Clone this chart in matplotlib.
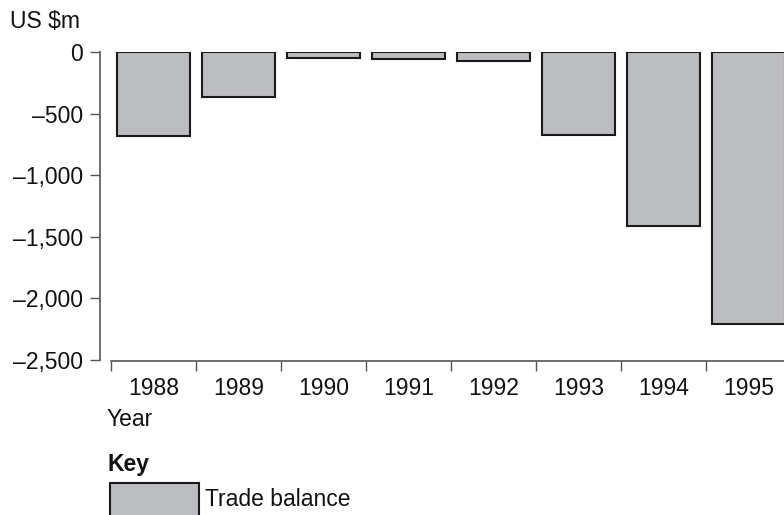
import matplotlib
matplotlib.use("Agg")
import matplotlib.pyplot as plt
from matplotlib.patches import Rectangle

plt.rcParams['font.family'] = ['Liberation Sans', 'DejaVu Sans']

years = ["1988", "1989", "1990", "1991", "1992", "1993", "1994", "1995"]
trade_balance = [-680, -365, -45, -60, -70, -670, -1415, -2210]
y_ticks = [0, -500, -1000, -1500, -2000, -2500]
y_tick_labels = ["0", "\u2013500", "\u20131,000", "\u20131,500", "\u20132,000", "\u20132,500"]

W, H = 784, 515
fig = plt.figure(figsize=(W / 100, H / 100), dpi=100)

ax_left, ax_right = 111, 791
ax_top, ax_bot = 52, 360
ax = fig.add_axes([ax_left / W, 1 - ax_bot / H, (ax_right - ax_left) / W, (ax_bot - ax_top) / H])

fill = "#bcbdc1"
edge = "#1a1a1a"
x = list(range(len(years)))
ax.bar(x, trade_balance, width=0.85, color=fill, edgecolor=edge, linewidth=1.5, align="center")

ax.set_xlim(-0.5, len(years) - 0.5)
ax.set_ylim(-2500, 0)

spine_col = "#555555"
for s in ["top", "right"]:
    ax.spines[s].set_visible(False)
ax.spines["left"].set_position(("outward", 8))
ax.spines["bottom"].set_position(("outward", 1))
ax.spines["left"].set_color(spine_col)
ax.spines["bottom"].set_color(spine_col)
ax.spines["left"].set_linewidth(1.2)
ax.spines["bottom"].set_linewidth(1.2)

ax.set_yticks(y_ticks)
ax.set_yticklabels(y_tick_labels)
ax.set_xticks([i - 0.5 for i in x])
ax.set_xticklabels([])
ax.set_xticks(x, minor=True)
ax.set_xticklabels(years, minor=True)
ax.tick_params(axis="x", which="major", length=7.5, width=1.0, color=spine_col, direction="out")
ax.tick_params(axis="x", which="minor", length=0, pad=11, labelsize=16.5, labelcolor="#111111")
ax.tick_params(axis="y", length=7, width=1.0, color=spine_col, pad=5, labelsize=16.5, labelcolor="#111111")

fig.text(10 / W, 1 - 22 / H, "US $m", fontsize=16.5, ha="left", va="center", color="#111111")
fig.text(107 / W, 1 - 419 / H, "Year", fontsize=16.5, ha="left", va="center", color="#111111")
fig.text(108 / W, 1 - 464 / H, "Key", fontsize=16.5, fontweight="bold", ha="left", va="center", color="#111111")
fig.patches.append(Rectangle((110 / W, 1 - 520 / H), 89 / W, 37 / H, transform=fig.transFigure,
                             facecolor=fill, edgecolor=edge, linewidth=1.5))
fig.text(205 / W, 1 - 500 / H, "Trade balance", fontsize=16.5, ha="left", va="center", color="#111111")

fig.savefig("out.png", dpi=100)
